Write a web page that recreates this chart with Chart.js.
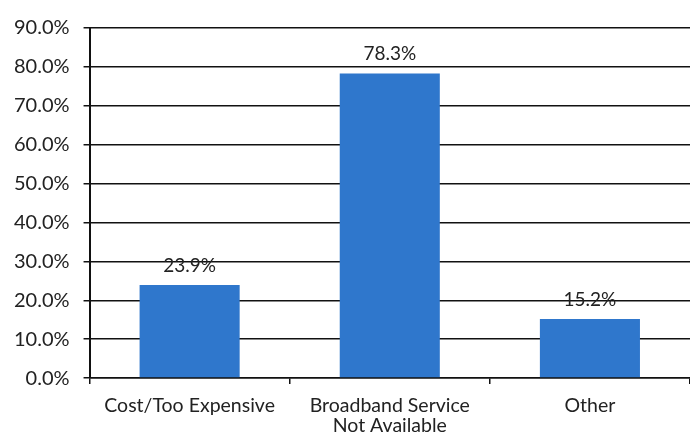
<!DOCTYPE html>
<html>
<head>
<meta charset="utf-8">
<script src="https://cdn.jsdelivr.net/npm/chart.js@4"></script>
<style>
  html, body { margin: 0; padding: 0; background: #fff; }
  #wrap { width: 690px; height: 435px; }
</style>
</head>
<body>
<div id="wrap"><canvas id="chart"></canvas></div>
<script>
// --------------------
// Chart data
// --------------------
const categories = ["Cost/Too Expensive", ["Broadband Service", "Not Available"], "Other"];
const percents = [23.9, 78.3, 15.2];
const yTicks = [0, 10, 20, 30, 40, 50, 60, 70, 80, 90];

// --------------------
// Value labels above bars
// --------------------
const valueLabels = {
  id: "valueLabels",
  afterDatasetsDraw(chart) {
    const ctx = chart.ctx;
    const meta = chart.getDatasetMeta(0);
    ctx.save();
    ctx.font = "19px Lato";
    ctx.fillStyle = "#222";
    ctx.textAlign = "center";
    ctx.textBaseline = "bottom";
    meta.data.forEach((bar, i) => {
      ctx.fillText(percents[i].toFixed(1) + "%", bar.x, bar.y - 10);
    });
    ctx.restore();
  }
};

new Chart(document.getElementById("chart"), {
  type: "bar",
  data: {
    labels: categories,
    datasets: [{
      data: percents,
      backgroundColor: "#2f77cc",
      barPercentage: 0.5,
      categoryPercentage: 1.0
    }]
  },
  options: {
    responsive: true,
    maintainAspectRatio: false,
    animation: false,
    layout: { padding: { top: 28, right: 0, left: 0, bottom: -12 } },
    plugins: { legend: { display: false }, tooltip: { enabled: false } },
    scales: {
      x: {
        offset: true,
        grid: { offset: true, drawOnChartArea: false, drawTicks: true, tickLength: 6, color: "#111", lineWidth: 1.5 },
        border: { display: true, color: "#111", width: 1.5 },
        ticks: { color: "#222", font: { family: "Lato", size: 19.5, lineHeight: 1.05 }, padding: 11, maxRotation: 0 }
      },
      y: {
        min: 0,
        max: 90,
        afterBuildTicks: (axis) => { axis.ticks = yTicks.map(v => ({ value: v })); },
        grid: { color: "#111", lineWidth: 1.5, drawTicks: true, tickLength: 6 },
        border: { display: true, color: "#111", width: 2 },
        ticks: {
          color: "#222",
          font: { family: "Lato", size: 20 },
          padding: 14,
          callback: v => v.toFixed(1) + "%"
        }
      }
    }
  },
  plugins: [valueLabels]
});
</script>
</body>
</html>
